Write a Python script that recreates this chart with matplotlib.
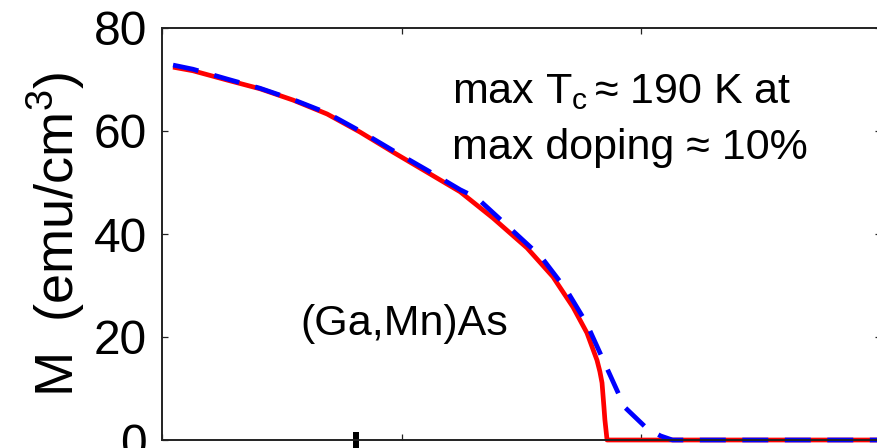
import matplotlib
matplotlib.use("Agg")
import matplotlib.pyplot as plt

plt.rcParams['font.family'] = ['Liberation Sans', 'DejaVu Sans']
plt.rcParams['mathtext.fontset'] = 'custom'
plt.rcParams['mathtext.rm'] = 'Liberation Sans'
plt.rcParams['mathtext.it'] = 'Liberation Sans'
plt.rcParams['mathtext.default'] = 'regular'

# magnetisation vs temperature
# red: solid curve, drops sharply at Tc
t_red = [4.6, 12.9, 27.1, 40.9, 54.7, 68.9, 82.6, 96.4, 110.6, 124.4, 138.1,
         152.3, 163.1, 171.5, 177.3, 181.5, 182.7, 183.6, 184.4, 184.8, 185.7, 300]
m_red = [72.4, 71.7, 69.9, 68.2, 66.0, 63.3, 59.8, 55.9, 52.0, 48.2, 43.1,
         37.3, 31.7, 25.8, 20.8, 15.5, 13.3, 11.1, 6.4, 3.9, 0.0, 0.0]

# blue: dashed curve with a softer tail
t_blue = [4.6, 12.9, 27.1, 40.9, 54.7, 68.9, 82.6, 96.4, 110.6, 124.4, 131.4,
          145.0, 158.3, 168.8, 177.1, 185.4, 193.0, 202.2, 208.0, 213.0, 300]
m_blue = [72.8, 72.0, 70.1, 68.3, 66.1, 63.5, 60.0, 56.2, 52.4, 48.6, 47.0,
          41.2, 35.5, 29.1, 22.7, 14.2, 6.4, 2.3, 0.8, 0.0, 0.0]

x_ticks = [0, 100, 200, 300]
y_ticks = [0, 20, 40, 60, 80]
y_label = "M  (emu/cm$^3$)"
note_line1 = "max $T_c\\,$≈ 190 K at"
note_line2 = "max doping ≈ 10%"
material = "(Ga,Mn)As"

fig = plt.figure(figsize=(8.77, 4.48), dpi=100)
# axes runs a few pixels past the right edge, like the cropped original
ax = fig.add_axes([162 / 877, 8 / 448, 719 / 877, 412 / 448])

ax.plot(t_red, m_red, color="#ff0000", linewidth=3.4, clip_on=False,
        solid_capstyle="butt", solid_joinstyle="round")
ax.plot(t_blue, m_blue, color="#0000ff", linewidth=3.4, clip_on=False,
        linestyle=(0, (5.5, 3.5)))

ax.set_xlim(0, 300)
ax.set_ylim(0, 80)
ax.set_xticks(x_ticks)
ax.set_yticks(y_ticks)
ax.tick_params(direction="in", length=4.3, width=0.9, top=True, right=True,
               labelbottom=False, labelsize=34.5, pad=10.8, color="#222222")
for s in ax.spines.values():
    s.set_linewidth(1.4)
    s.set_color("#222222")

ax.set_ylabel(y_label, fontsize=39)
ax.yaxis.set_label_coords(-0.104, 0.5)

# stray mark under the axis in the original crop
ax.plot([0.27, 0.27], [0.02, -0.03], transform=ax.transAxes, color="black",
        linewidth=4.3, clip_on=False, solid_capstyle="butt")

fig.text(452 / 877, (448 - 103) / 448, note_line1, fontsize=31, va="baseline")
fig.text(452 / 877, (448 - 159) / 448, note_line2, fontsize=31, va="baseline")
fig.text(300 / 877, (448 - 335) / 448, material, fontsize=31, va="baseline")

fig.savefig("out.png", dpi=100)
